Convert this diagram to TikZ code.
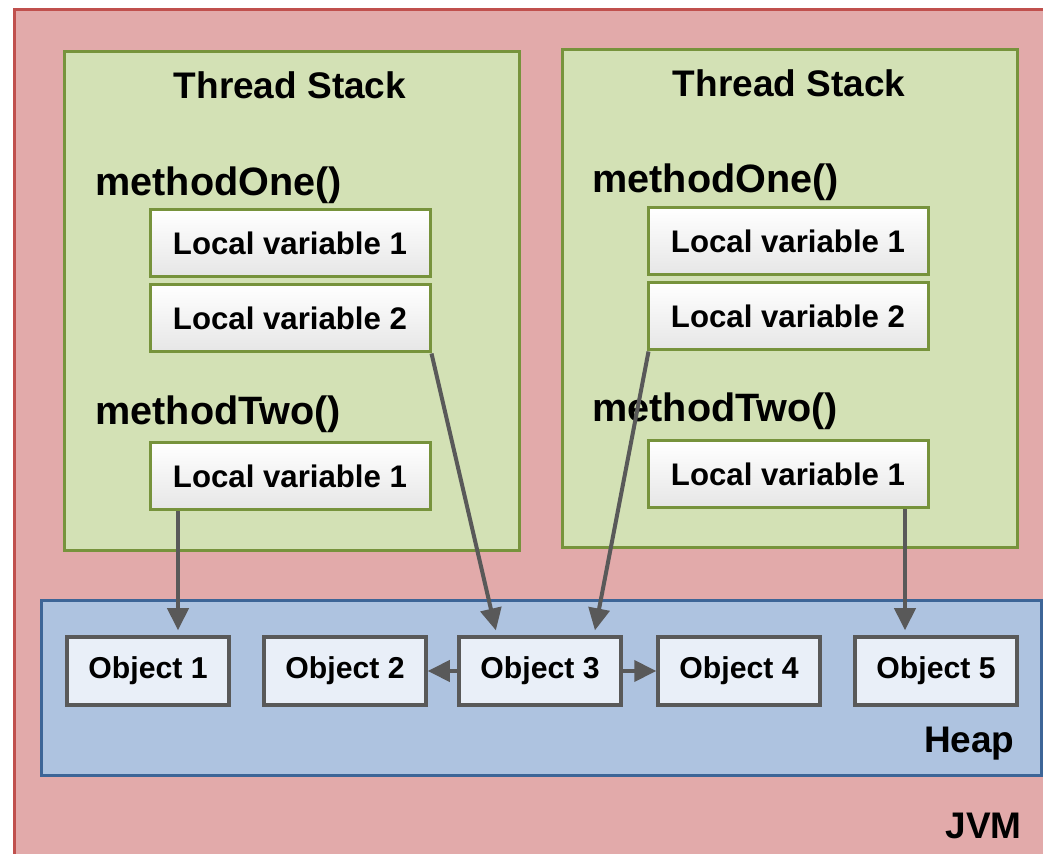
\documentclass[tikz,border=0pt]{standalone}
\usepackage{fontspec}
\setmainfont{Liberation Sans}
\usetikzlibrary{arrows.meta}

\definecolor{jvmFill}{HTML}{E2AAAA}
\definecolor{jvmLine}{HTML}{C0504D}
\definecolor{stackFill}{HTML}{D3E1B5}
\definecolor{stackLine}{HTML}{77933C}
\definecolor{heapFill}{HTML}{AEC3E0}
\definecolor{heapLine}{HTML}{3D6597}
\definecolor{objFill}{HTML}{E9EFF8}
\definecolor{objLine}{HTML}{595959}
\definecolor{varBottom}{HTML}{E6E6E6}

\tikzstyle{regionBox} = [anchor=north west,inner sep=0pt,line width=1.5pt]
\tikzstyle{varBox} = [draw=stackLine,line width=1.5pt,top color=white,bottom color=varBottom,minimum width=140pt,minimum height=33.5pt,font=\bfseries\fontsize{15.6}{18}\selectfont]
\tikzstyle{objBox} = [draw=objLine,fill=objFill,line width=1.75pt,minimum width=81pt,minimum height=34pt,font=\bfseries\fontsize{15.1}{18}\selectfont]
\tikzstyle{bigLabel} = [inner sep=0pt,font=\bfseries\fontsize{18.5}{22}\selectfont]
\tikzstyle{methodLabel} = [inner sep=0pt,anchor=base west,font=\bfseries\fontsize{19.8}{23}\selectfont]
\tikzstyle{refArrow} = [draw=objLine,line width=2pt,-{Triangle[length=11pt,width=10.5pt]},shorten >=2.5pt]

\begin{document}
\begin{tikzpicture}[x=0.5pt,y=-0.5pt]
			\clip (0,0) rectangle (1043,854);
			\fill[white] (0,0) rectangle (1043,854);
			% jvm, stacks and heap
			\node[regionBox,draw=jvmLine,fill=jvmFill,minimum width=530pt,minimum height=440pt] (jvm) at (13,8) {};
			\node[regionBox,draw=stackLine,fill=stackFill,minimum width=227.5pt,minimum height=249.5pt] (stackL) at (63,50) {};
			\node[regionBox,draw=stackLine,fill=stackFill,minimum width=227.5pt,minimum height=249pt] (stackR) at (561,48) {};
			\node[regionBox,draw=heapLine,fill=heapFill,minimum width=500pt,minimum height=87.5pt] (heap) at (40,599) {};
			
			\node[bigLabel,anchor=base] (titleL) at (290,99) {Thread Stack};
			\node[bigLabel,anchor=base] (titleR) at (789,97) {Thread Stack};
			\node[bigLabel,anchor=base east] (heapText) at (1015,752) {Heap};
			\node[bigLabel,anchor=base east] (jvmText) at (1022,838) {JVM};
			
			% first thread
			\node[methodLabel] (oneL) at (95,196) {methodOne()};
			\node[varBox] (varL1) at (290,243.5) {Local variable 1};
			\node[varBox] (varL2) at (290,318.5) {Local variable 2};
			\node[methodLabel] (twoL) at (95,425) {methodTwo()};
			\node[varBox] (varL3) at (290,476.5) {Local variable 1};
			
			% second thread
			\node[methodLabel] (oneR) at (592,193) {methodOne()};
			\node[varBox] (varR1) at (788,241.5) {Local variable 1};
			\node[varBox] (varR2) at (788,316.5) {Local variable 2};
			\node[methodLabel] (twoR) at (592,422) {methodTwo()};
			\node[varBox] (varR3) at (788,474.5) {Local variable 1};
			
			% objects on the heap
			\node[objBox] (obj1) at (148,671) {Object 1};
			\node[objBox] (obj2) at (345,671) {Object 2};
			\node[objBox] (obj3) at (540,671) {Object 3};
			\node[objBox] (obj4) at (739,671) {Object 4};
			\node[objBox] (obj5) at (936,671) {Object 5};
			
			\draw[refArrow] ([xshift=-56pt]varL3.south) -- ([xshift=-56pt]varL3.south |- obj1.north);
			\draw[refArrow] (varL2.south east) -- ([xshift=-21.5pt]obj3.north);
			\draw[refArrow] ([xshift=1pt]varR2.south west) -- ([xshift=27pt]obj3.north);
			\draw[refArrow] ([xshift=58.5pt]varR3.south) -- ([xshift=58.5pt]varR3.south |- obj5.north);
			\draw[refArrow,shorten >=0pt] (obj3.west) -- (obj2.east);
			\draw[refArrow,shorten >=0pt] (obj3.east) -- (obj4.west);
			
		\end{tikzpicture}
\end{document}
